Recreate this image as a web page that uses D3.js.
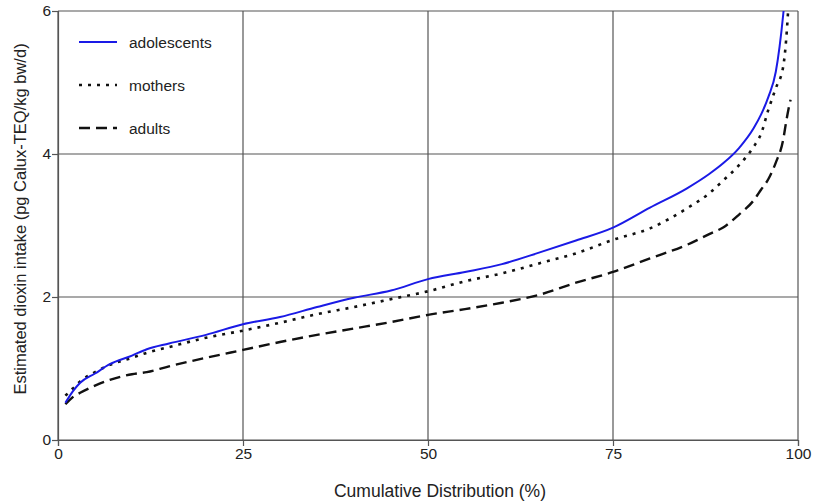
<!DOCTYPE html>
<html><head><meta charset="utf-8">
<script src="https://cdn.jsdelivr.net/npm/d3@7"></script>
<style>
body{margin:0;background:#fff;}
text{font-family:"Liberation Sans",Arial,sans-serif;fill:#222;}
</style></head>
<body><svg id="c" width="815" height="504"></svg>
<script>
const pct = [1,2,3,5,7,10,12,15,20,25,30,35,40,45,50,55,60,65,70,75,80,85,88,90,92,94,95,96,97,98,98.4,98.7,99];
const adolescents = [0.52,0.68,0.80,0.93,1.06,1.18,1.27,1.35,1.47,1.62,1.72,1.86,1.99,2.09,2.25,2.35,2.46,2.62,2.79,2.97,3.25,3.52,3.72,3.88,4.08,4.36,4.55,4.80,5.15,5.95,6.4,6.8,7.2];
const mothers = [0.62,0.72,0.82,0.95,1.05,1.15,1.22,1.30,1.43,1.53,1.64,1.76,1.86,1.97,2.08,2.22,2.33,2.47,2.61,2.80,2.96,3.24,3.45,3.64,3.84,4.10,4.28,4.62,4.92,5.22,5.60,6.05,6.5];
const adults = [0.50,0.60,0.66,0.76,0.84,0.92,0.95,1.03,1.15,1.26,1.37,1.47,1.56,1.65,1.75,1.83,1.92,2.03,2.20,2.35,2.54,2.73,2.88,2.98,3.15,3.35,3.50,3.65,3.88,4.20,4.45,4.62,4.76];
const xTicks = [0,25,50,75,100];
const yTicks = [0,2,4,6];
const seriesNames = ["adolescents","mothers","adults"];

const svg = d3.select("#c");
const x = d3.scaleLinear().domain([0,100]).range([58,798]);
const y = d3.scaleLinear().domain([0,6]).range([440,11]);
const gridCol = "#555";

svg.append("defs").append("clipPath").attr("id","clip")
  .append("rect").attr("x",58).attr("y",11).attr("width",740).attr("height",429);

// grid
const g = svg.append("g");
g.selectAll(".vg").data(xTicks).join("line")
  .attr("x1",d=>x(d)).attr("x2",d=>x(d)).attr("y1",y(6)).attr("y2",y(0))
  .attr("stroke",gridCol).attr("stroke-width",1.2);
g.selectAll(".hg").data(yTicks).join("line")
  .attr("x1",x(0)).attr("x2",x(100)).attr("y1",d=>y(d)).attr("y2",d=>y(d))
  .attr("stroke",gridCol).attr("stroke-width",1.2);

// axes
const xAxis = svg.append("g").attr("transform",`translate(0,${y(0)})`)
  .call(d3.axisBottom(x).tickValues(xTicks).tickFormat(d3.format("d")).tickSize(6).tickPadding(2));
const yAxis = svg.append("g").attr("transform",`translate(${x(0)},0)`)
  .call(d3.axisLeft(y).tickValues(yTicks).tickFormat(d3.format("d")).tickSize(6).tickPadding(1));
[xAxis,yAxis].forEach(a=>{
  a.select(".domain").attr("stroke",gridCol).attr("stroke-width",1.2);
  a.selectAll(".tick line").attr("stroke",gridCol).attr("stroke-width",1.2);
  a.selectAll("text").style("font-family","Liberation Sans, Arial, sans-serif").style("font-size","15.5px").attr("fill","#222");
});

// lines
const line = d3.line().x((d,i)=>x(pct[i])).y(d=>y(d)).curve(d3.curveMonotoneX);
const styles = {
  adolescents:{stroke:"#1a1ae6",width:2,dash:null},
  mothers:{stroke:"#111",width:2.6,dash:"3,6"},
  adults:{stroke:"#111",width:2.4,dash:"11,6"}
};
const dataMap = {adolescents,mothers,adults};
const lg = svg.append("g").attr("clip-path","url(#clip)");
["adults","mothers","adolescents"].forEach(n=>{
  lg.append("path").datum(dataMap[n]).attr("d",line)
    .attr("fill","none").attr("stroke",styles[n].stroke)
    .attr("stroke-width",styles[n].width)
    .attr("stroke-dasharray",styles[n].dash)
    .attr("stroke-linecap","butt");
});

// legend
const leg = svg.append("g");
seriesNames.forEach((n,i)=>{
  const yy = 42 + i*43;
  leg.append("line").attr("x1",79).attr("x2",117).attr("y1",yy).attr("y2",yy)
    .attr("stroke",styles[n].stroke).attr("stroke-width",styles[n].width)
    .attr("stroke-dasharray",styles[n].dash);
  leg.append("text").attr("x",129).attr("y",yy+5.5).style("font-size","15.5px").text(n);
});

// axis titles
svg.append("text").attr("x",(x(0)+x(100))/2 + 12).attr("y",497).attr("text-anchor","middle")
  .style("font-size","17.5px").text("Cumulative Distribution (%)");
svg.append("text").attr("transform","translate(26,219) rotate(-90)").attr("text-anchor","middle")
  .style("font-size","16.5px").text("Estimated dioxin intake (pg Calux-TEQ/kg bw/d)");
</script></body></html>
